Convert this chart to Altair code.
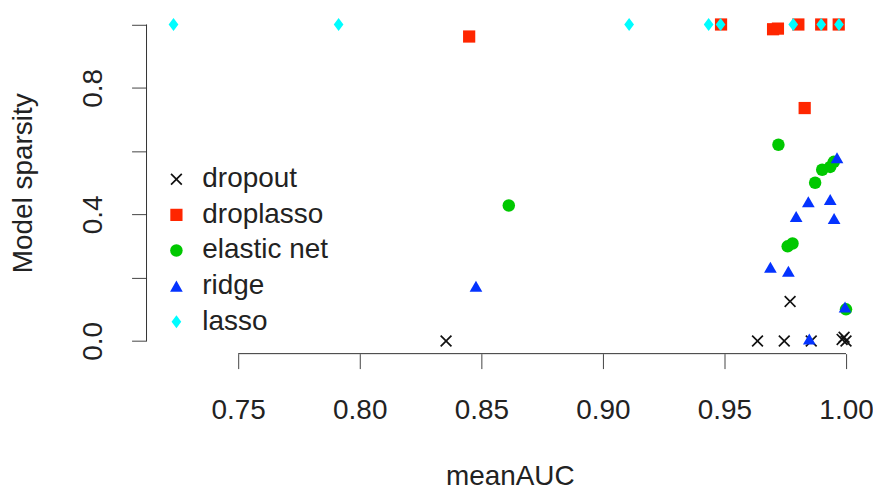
import altair as alt
import pandas as pd

methods = ["dropout", "droplasso", "elastic net", "ridge", "lasso"]

dropout_auc = [0.8355, 0.9636, 0.9746, 0.9857, 0.9770, 0.9984, 0.9992, 1.0000]
dropout_sp = [0.000, 0.000, 0.000, 0.000, 0.125, 0.005, 0.012, 0.000]

droplasso_auc = [0.8450, 0.9486, 0.9700, 0.9720, 0.9804, 0.9830, 0.9898, 0.9970]
droplasso_sp = [0.962, 1.000, 0.985, 0.987, 1.000, 0.736, 1.000, 1.000]

elastic_auc = [0.8613, 0.9722, 0.9760, 0.9780, 0.9873, 0.9902, 0.9935, 0.9950, 1.0000]
elastic_sp = [0.428, 0.620, 0.299, 0.308, 0.500, 0.541, 0.550, 0.566, 0.100]

ridge_auc = [0.8478, 0.9689, 0.9763, 0.9795, 0.9845, 0.9849, 0.9935, 0.9951, 0.9963, 0.9996]
ridge_sp = [0.173, 0.233, 0.220, 0.393, 0.440, 0.006, 0.447, 0.387, 0.579, 0.107]

lasso_auc = [0.7234, 0.7913, 0.9108, 0.9435, 0.9484, 0.9783, 0.9898, 0.9971]
lasso_sp = [1.000, 1.000, 1.000, 1.000, 1.000, 1.000, 1.000, 1.000]

x_ticks = [0.75, 0.80, 0.85, 0.90, 0.95, 1.00]
y_ticks = [0.0, 0.2, 0.4, 0.6, 0.8, 1.0]

rows = []
for m, xs, ys in zip(methods,
                     [dropout_auc, droplasso_auc, elastic_auc, ridge_auc, lasso_auc],
                     [dropout_sp, droplasso_sp, elastic_sp, ridge_sp, lasso_sp]):
    for a, s in zip(xs, ys):
        rows.append({"method": m, "meanAUC": a, "sparsity": s})
df = pd.DataFrame(rows)

W, H = 729, 343
FONT = "Liberation Sans"
FS = 28

x_scale = alt.Scale(domain=[0.7123, 1.0111], nice=False, zero=False)
y_scale = alt.Scale(domain=[-0.04, 1.04], nice=False, zero=False)

x_path = "M-1,-0.8L-0.8,-1L0,-0.2L0.8,-1L1,-0.8L0.2,0L1,0.8L0.8,1L0,0.2L-0.8,1L-1,0.8L-0.2,0Z"
diamond = "M0,-1L0.75,0L0,1L-0.75,0Z"
shapes = [x_path, "square", "circle", "triangle-up", diamond]
sizes = [144, 169, 154, 289, 196]
colors = ["#111111", "#FF2600", "#00C800", "#0433FF", "#00FDFF"]

leg = alt.Legend(title=None, orient="none", legendX=16, legendY=154,
                 labelFontSize=FS, labelFont=FONT, labelColor="#222",
                 rowPadding=7.75, labelOffset=12, padding=0,
                 symbolStrokeWidth=0)

points = alt.Chart(df).mark_point(filled=True, opacity=1).encode(
    x=alt.X("meanAUC:Q", scale=x_scale, title="meanAUC",
            axis=alt.Axis(values=x_ticks, format=".2f", domain=False, grid=False,
                          tickSize=15, tickColor="#444", labelFontSize=FS, labelFont=FONT,
                          labelColor="#222", labelPadding=28, titleFontSize=FS, titleFont=FONT,
                          titleFontWeight="normal", titleColor="#222",
                          titleBaseline="alphabetic", titleY=131)),
    y=alt.Y("sparsity:Q", scale=y_scale, title="Model sparsity",
            axis=alt.Axis(values=y_ticks, domain=False, grid=False,
                          labelExpr="(abs(datum.value-0.0)<1e-6 || abs(datum.value-0.4)<1e-6 || abs(datum.value-0.8)<1e-6) ? format(datum.value, '.1f') : ''",
                          tickSize=15, tickColor="#444", labelFontSize=FS, labelFont=FONT,
                          labelColor="#222", labelAngle=270, labelAlign="center",
                          labelBaseline="bottom", labelPadding=24,
                          titleFontSize=FS, titleFont=FONT, titleFontWeight="normal",
                          titleColor="#222", titleAngle=270, titleBaseline="alphabetic",
                          titleX=-115)),
    color=alt.Color("method:N", scale=alt.Scale(domain=methods, range=colors), legend=leg),
    shape=alt.Shape("method:N", scale=alt.Scale(domain=methods, range=shapes), legend=leg),
    size=alt.Size("method:N", scale=alt.Scale(domain=methods, range=sizes), legend=leg),
)

xline = alt.Chart(pd.DataFrame({"k": [0]})).mark_rule(color="#333", strokeWidth=1).encode(
    x=alt.datum(x_ticks[0], scale=x_scale), x2=alt.datum(x_ticks[-1]), y=alt.value(H))
yline = alt.Chart(pd.DataFrame({"k": [0]})).mark_rule(color="#333", strokeWidth=1).encode(
    y=alt.datum(y_ticks[0], scale=y_scale), y2=alt.datum(y_ticks[-1]), x=alt.value(0))

chart = alt.layer(xline, yline, points).properties(
    width=W, height=H,
    background="white",
    autosize=alt.AutoSizeParams(type="none"),
    padding={"left": 139, "top": 3, "right": 0, "bottom": 140},
).configure_view(stroke=None)

chart.save("out.html", embed_options={"renderer": "svg", "actions": False})
